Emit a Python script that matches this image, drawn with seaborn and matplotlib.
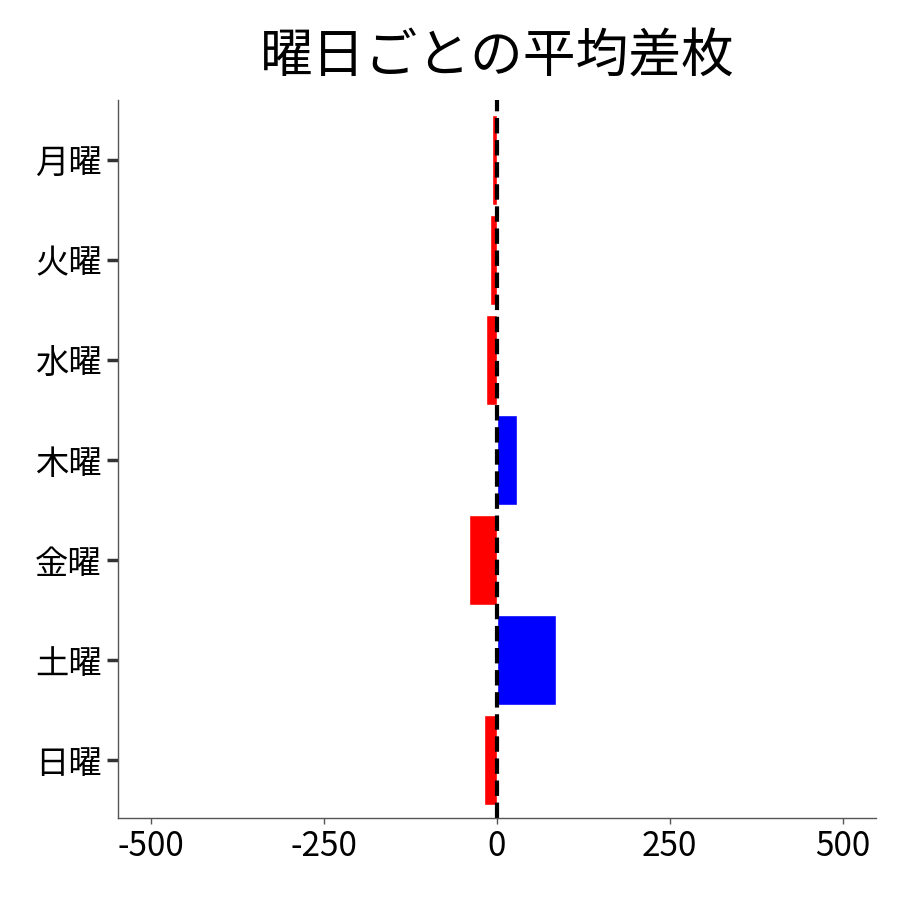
import matplotlib
matplotlib.use("Agg")
import matplotlib.pyplot as plt
import seaborn as sns
import pandas as pd

days = ["月曜", "火曜", "水曜", "木曜", "金曜", "土曜", "日曜"]
values = [-7, -10, -15, 29, -40, 85, -19]
colors = ["red" if v < 0 else "blue" for v in values]

sns.set_theme(style="ticks")
plt.rcParams['font.family'] = ['Noto Sans CJK JP', 'DejaVu Sans']
plt.rcParams['axes.unicode_minus'] = False
plt.rcParams['text.color'] = 'black'
plt.rcParams['xtick.color'] = 'black'
plt.rcParams['ytick.color'] = 'black'

df = pd.DataFrame({"day": days, "value": values})
fig, ax = plt.subplots(figsize=(9, 9), dpi=100)
sns.barplot(data=df, x="value", y="day", hue="day", palette=colors, legend=False,
            width=0.9, ax=ax, saturation=1)
ax.axvline(0, color="black", linestyle="--", linewidth=3)
ax.set_xlim(-548, 548)
ax.set_ylim(6.58, -0.6)
ax.set_xticks([-500, -250, 0, 250, 500])
ax.set_xlabel("")
ax.set_ylabel("")
ax.set_title("曜日ごとの平均差枚", fontsize=38, pad=20)
ax.tick_params(axis="both", labelsize=24)
ax.tick_params(axis="y", width=2.5, length=8, color="#333333")
ax.tick_params(axis="x", width=1, length=4, color="#555555")
for s in ["left", "bottom"]:
    ax.spines[s].set_color("#555555")
    ax.spines[s].set_linewidth(1)
sns.despine(ax=ax)
fig.subplots_adjust(left=0.131, right=0.973, top=0.889, bottom=0.091)
fig.savefig("out.png")
